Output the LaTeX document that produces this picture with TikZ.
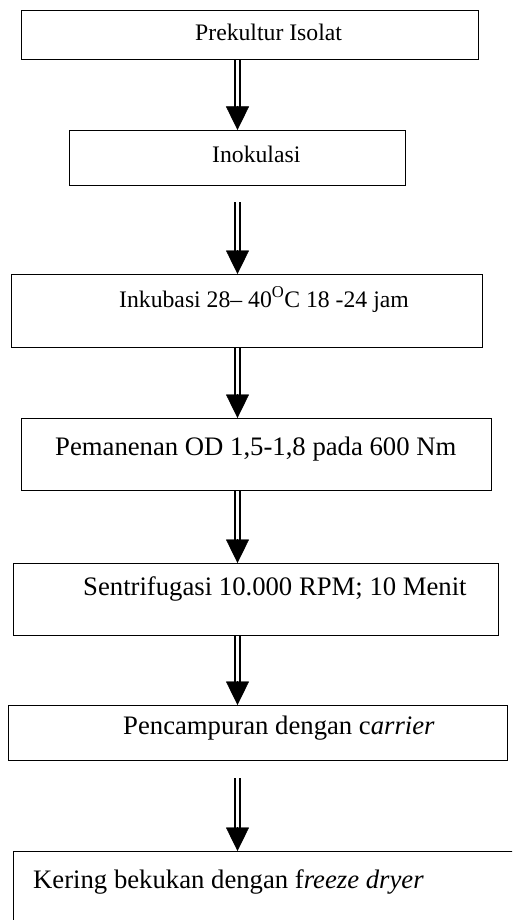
\documentclass[tikz,border=0pt]{standalone}
\usepackage{fontspec}
\setmainfont{Liberation Serif}
\usetikzlibrary{calc,arrows.meta}
\begin{document}
\begin{tikzpicture}[x=1pt,y=-1pt,
  box/.style={draw,line width=1.3pt,rectangle,inner sep=0pt,anchor=north west},
  lbl/.style={anchor=base west,inner sep=0pt},
  smalltxt/.style={font=\fontsize{23.7}{28}\selectfont},
  bigtxt/.style={font=\fontsize{26.7}{32}\selectfont},
  shaft/.style={double,double distance=3pt,line width=1.8pt},
  headarrow/.style={line width=0.4pt,-{Triangle[width=23pt,length=23.5pt]}}]
\clip (0,0) rectangle (512,920);
\fill[white] (0,0) rectangle (512,920);
% boxes
\node[box,minimum width=457pt,minimum height=49pt] (b1) at (21,10) {};
\node[box,minimum width=336pt,minimum height=55pt] (b2) at (69,130) {};
\node[box,minimum width=471pt,minimum height=73pt] (b3) at (11,274) {};
\node[box,minimum width=470pt,minimum height=72pt] (b4) at (21,418) {};
\node[box,minimum width=485pt,minimum height=72pt] (b5) at (13,563) {};
\node[box,minimum width=499pt,minimum height=55pt] (b6) at (8,705) {};
\node[box,minimum width=520pt,minimum height=100pt] (b7) at (13,851) {};
% texts
\node[lbl,smalltxt] (t1) at (195,41) {Prekultur Isolat};
\node[lbl,smalltxt] (t2) at (212,163) {Inokulasi};
\node[lbl,smalltxt] (t3) at (119,307) {Inkubasi 28– 40\textsuperscript{O}C 18 -24 jam};
\node[lbl,bigtxt] (t4) at (55,455) {Pemanenan OD 1,5-1,8 pada 600 Nm};
\node[lbl,bigtxt] (t5) at (83,595) {Sentrifugasi 10.000 RPM; 10 Menit};
\node[lbl,bigtxt] (t6) at (123,734) {Pencampuran dengan c\textit{arrier}};
\node[lbl,bigtxt] (t7) at (33,888) {Kering bekukan dengan f\textit{reeze dryer}};
% arrow axis and gap starts
\coordinate (ax) at (237.5,0);
\coordinate (g2) at (237.5,202);
\coordinate (g6) at (237.5,778);
% arrows
\draw[shaft] (b1.south -| ax) -- ($(b2.north -| ax)+(0,-22)$);
\draw[headarrow] ($(b2.north -| ax)+(0,-24)$) -- (b2.north -| ax);
\draw[shaft] (g2) -- ($(b3.north -| ax)+(0,-22)$);
\draw[headarrow] ($(b3.north -| ax)+(0,-24)$) -- (b3.north -| ax);
\draw[shaft] (b3.south -| ax) -- ($(b4.north -| ax)+(0,-22)$);
\draw[headarrow] ($(b4.north -| ax)+(0,-24)$) -- (b4.north -| ax);
\draw[shaft] (b4.south -| ax) -- ($(b5.north -| ax)+(0,-22)$);
\draw[headarrow] ($(b5.north -| ax)+(0,-24)$) -- (b5.north -| ax);
\draw[shaft] (b5.south -| ax) -- ($(b6.north -| ax)+(0,-22)$);
\draw[headarrow] ($(b6.north -| ax)+(0,-24)$) -- (b6.north -| ax);
\draw[shaft] (g6) -- ($(b7.north -| ax)+(0,-22)$);
\draw[headarrow] ($(b7.north -| ax)+(0,-24)$) -- (b7.north -| ax);
\end{tikzpicture}
\end{document}
